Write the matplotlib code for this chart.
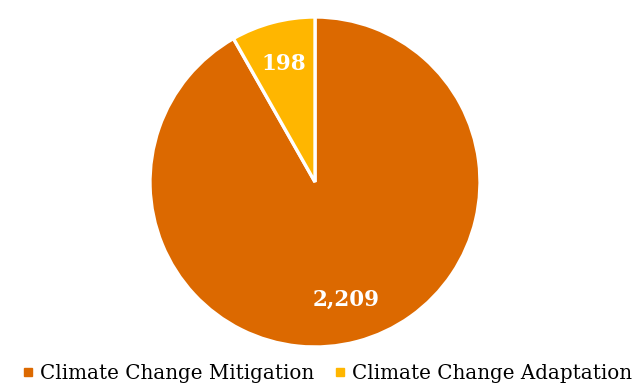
import matplotlib.pyplot as plt
from matplotlib.lines import Line2D

categories = ["Climate Change Mitigation", "Climate Change Adaptation"]
values = [2209, 198]
colors = ["#DC6900", "#FFB600"]

plt.rcParams['font.family'] = ['DejaVu Serif']

fig = plt.figure(figsize=(6.36, 3.87), dpi=100)
# pie circle: centre (315,182) px from top, radius 165 px
ax = fig.add_axes([150 / 636, 40 / 387, 330 / 636, 330 / 387])

wedges, texts, autotexts = ax.pie(
    values, colors=colors, startangle=90, counterclock=False,
    autopct=lambda p: f"{p * sum(values) / 100:,.0f}", pctdistance=0.74,
    wedgeprops=dict(edgecolor="white", linewidth=2.4), radius=1,
)
for t in autotexts:
    t.set_color("white")
    t.set_fontweight("bold")
    t.set_fontsize(15.5)
ax.set_xlim(-1, 1)
ax.set_ylim(-1, 1)
ax.set_aspect("auto")

handles = [Line2D([], [], marker="s", linestyle="", color=c, markersize=6) for c in colors]
fig.legend(handles, categories, loc="lower center", bbox_to_anchor=(0.514, -0.035),
           ncol=2, frameon=False, fontsize=14.3, handlelength=0.6, handletextpad=0.3,
           columnspacing=1.0)

fig.savefig("out.png", dpi=100)
